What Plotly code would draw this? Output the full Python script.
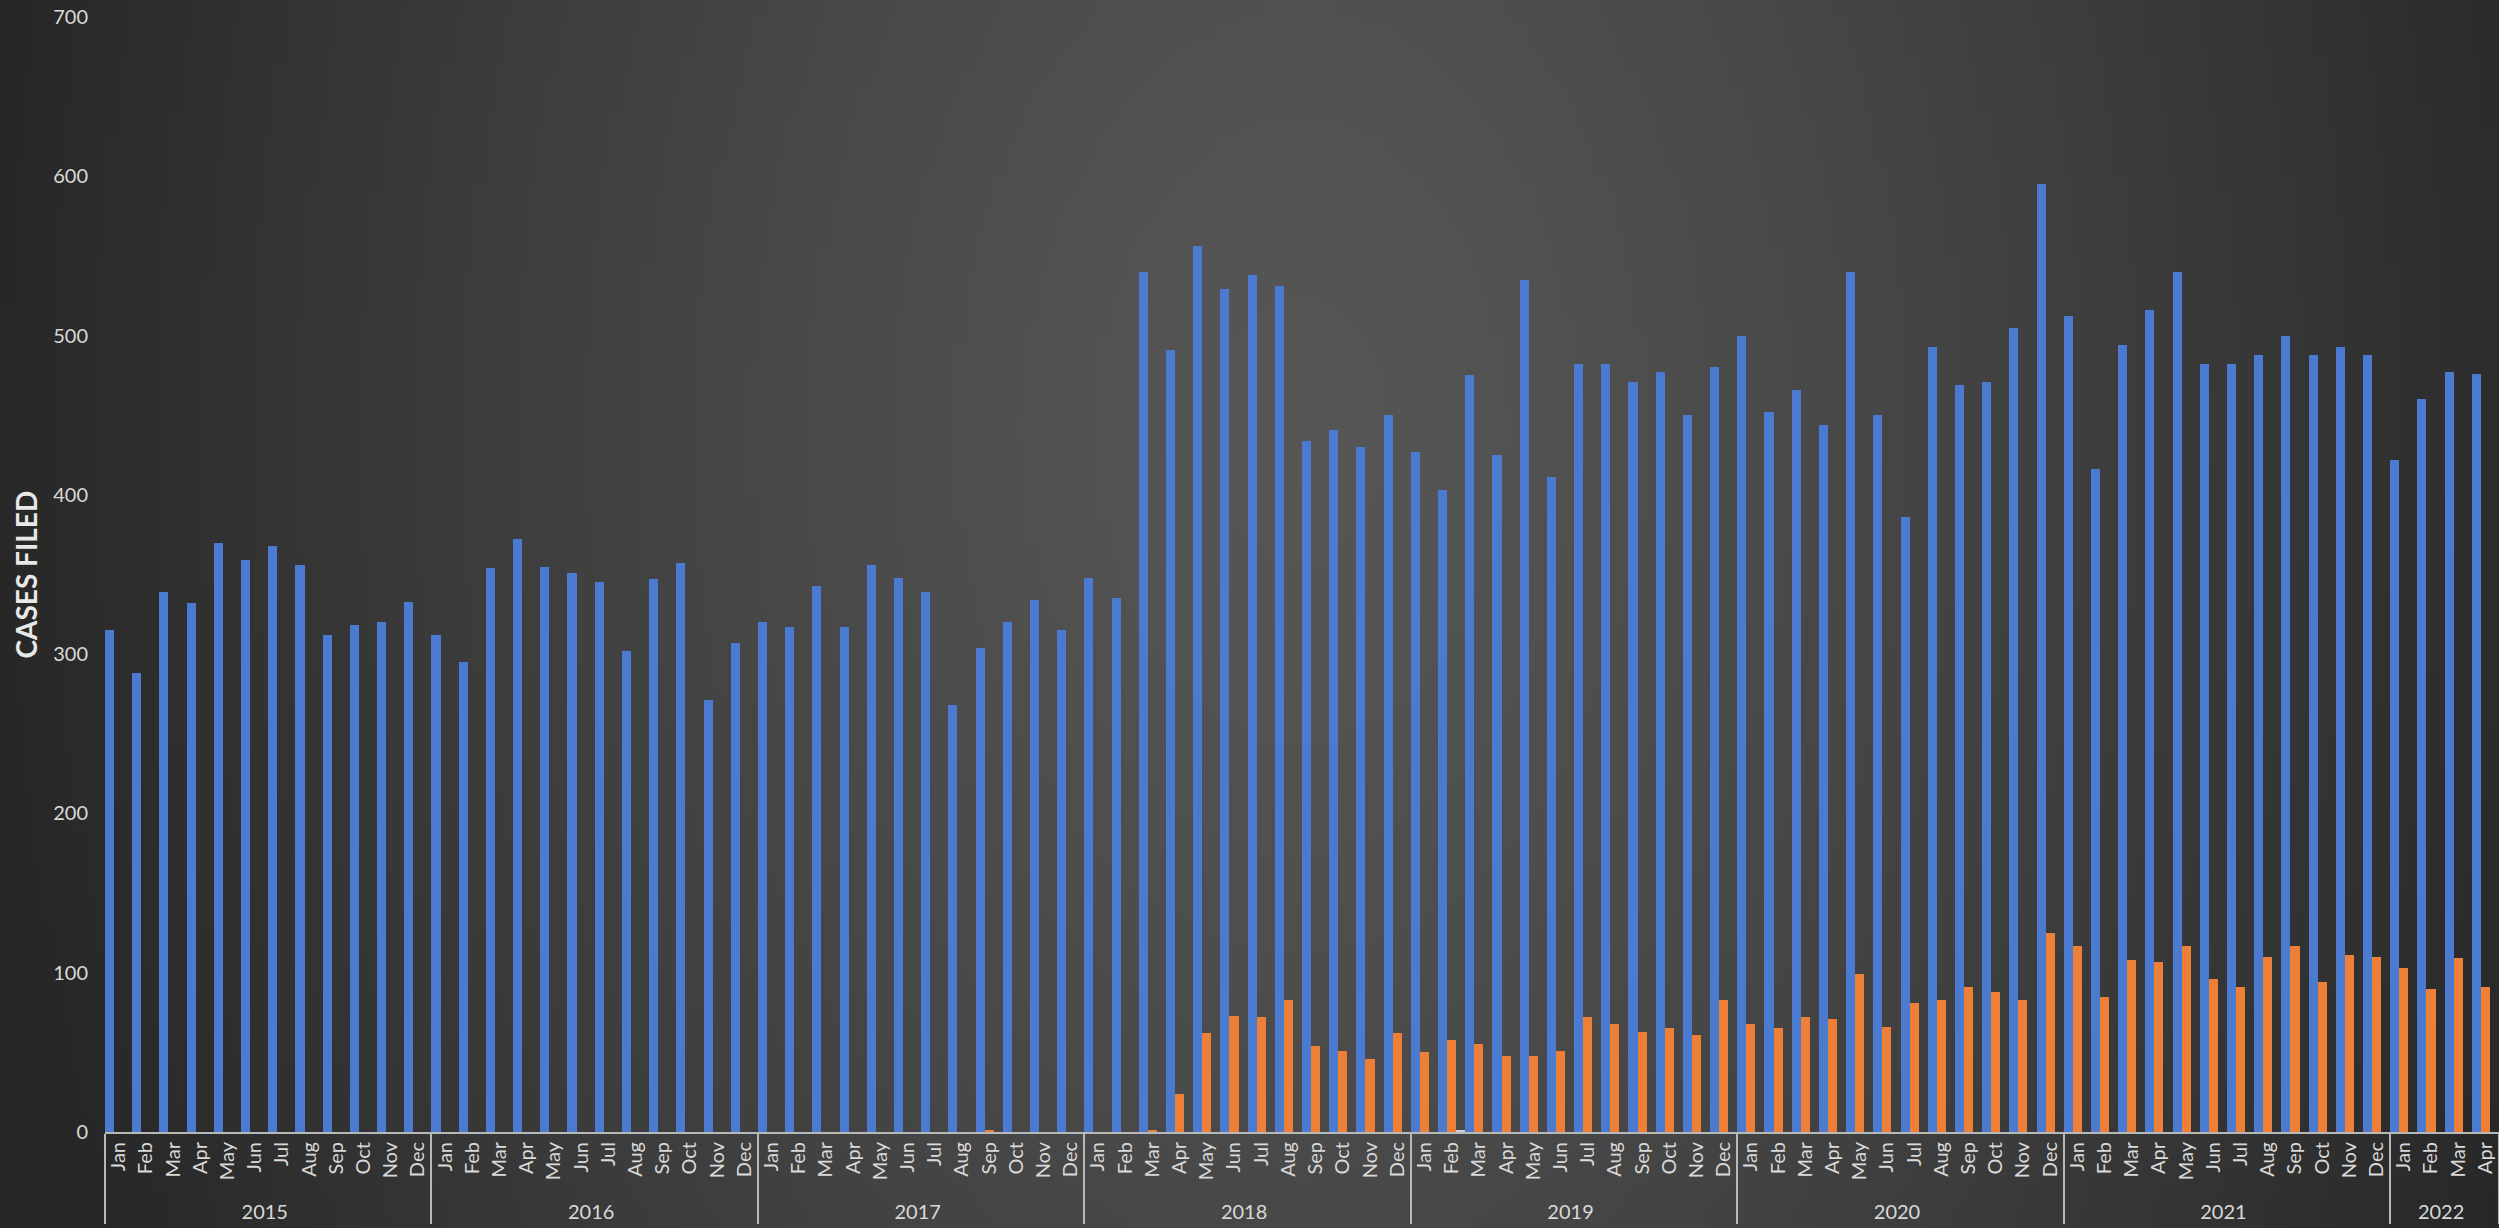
import base64
import struct
import zlib

import plotly.graph_objects as go

# ---------------- data ----------------
months = ["Jan", "Feb", "Mar", "Apr", "May", "Jun",
          "Jul", "Aug", "Sep", "Oct", "Nov", "Dec"]
years = ["2015", "2016", "2017", "2018", "2019", "2020", "2021", "2022"]
months_per_year = [12, 12, 12, 12, 12, 12, 12, 4]

series_blue = [
    315, 288, 339, 332, 370, 359, 368, 356, 312, 318, 320, 333,   # 2015
    312, 295, 354, 372, 355, 351, 345, 302, 347, 357, 271, 307,   # 2016
    320, 317, 343, 317, 356, 348, 339, 268, 304, 320, 334, 315,   # 2017
    348, 335, 540, 491, 556, 529, 538, 531, 434, 441, 430, 450,   # 2018
    427, 403, 475, 425, 535, 411, 482, 482, 471, 477, 450, 480,   # 2019
    500, 452, 466, 444, 540, 450, 386, 493, 469, 471, 505, 595,   # 2020
    512, 416, 494, 516, 540, 482, 482, 488, 500, 488, 493, 488,   # 2021
    422, 460, 477, 476,                                           # 2022
]
series_orange = [
    0, 0, 0, 0, 0, 0, 0, 0, 0, 0, 0, 0,                           # 2015
    0, 0, 0, 0, 0, 0, 0, 0, 0, 0, 0, 0,                           # 2016
    0, 0, 0, 0, 0, 0, 0, 0, 1, 0, 0, 0,                           # 2017
    0, 0, 1, 24, 62, 73, 72, 83, 54, 51, 46, 62,                  # 2018
    50, 58, 55, 48, 48, 51, 72, 68, 63, 65, 61, 83,               # 2019
    68, 65, 72, 71, 99, 66, 81, 83, 91, 88, 83, 125,              # 2020
    117, 85, 108, 107, 117, 96, 91, 110, 117, 94, 111, 110,       # 2021
    103, 90, 109, 91,                                             # 2022
]
series_grey = [0] * 88
series_grey[49] = 1   # Feb 2019

y_ticks = [0, 100, 200, 300, 400, 500, 600, 700]
y_title = "CASES FILED"

# category arrays (outer = year, inner = month)
x_year = []
x_month = []
for yr, n in zip(years, months_per_year):
    x_year += [yr] * n
    x_month += months[:n]

# ---------------- background (radial gradient as a tiny PNG) ----------------
W, H = 2499, 1228
PW, PH = 250, 123


def make_png(w, h, rows):
    raw = b"".join(b"\x00" + bytes(r) for r in rows)

    def chunk(t, d):
        return (struct.pack(">I", len(d)) + t + d
                + struct.pack(">I", zlib.crc32(t + d) & 0xFFFFFFFF))

    return (b"\x89PNG\r\n\x1a\n"
            + chunk(b"IHDR", struct.pack(">IIBBBBB", w, h, 8, 0, 0, 0, 0))
            + chunk(b"IDAT", zlib.compress(raw, 9))
            + chunk(b"IEND", b""))


cx, cy = 1300.0, 430.0
rx, ry = 1330.0, 2000.0
c_center, c_edge = 86.0, 38.0
rows = []
for j in range(PH):
    yy = (j + 0.5) * H / PH
    row = []
    for i in range(PW):
        xx = (i + 0.5) * W / PW
        t = (((xx - cx) / rx) ** 2 + ((yy - cy) / ry) ** 2) ** 0.5
        t = min(t, 1.0) ** 1.3
        row.append(int(round(c_center - (c_center - c_edge) * t)))
    rows.append(row)
bg_uri = "data:image/png;base64," + base64.b64encode(make_png(PW, PH, rows)).decode()

# ---------------- figure ----------------
ml, mr, mt, mb = 105, 0, 17, 96
pw, ph = W - ml - mr, H - mt - mb

fig = go.Figure()
fig.add_trace(go.Bar(x=[x_year, x_month], y=series_blue, name="Series 1",
                     marker=dict(color="#4b7ad1", line=dict(width=0))))
fig.add_trace(go.Bar(x=[x_year, x_month], y=series_orange, name="Series 2",
                     marker=dict(color="#ee7f36", line=dict(width=0))))
fig.add_trace(go.Bar(x=[x_year, x_month], y=series_grey, name="Series 3",
                     marker=dict(color="#d0d0d0", line=dict(width=0))))

font_family = "Lato, 'Open Sans', sans-serif"
fig.update_layout(
    width=W, height=H,
    margin=dict(l=ml, r=mr, t=mt, b=mb, pad=0),
    paper_bgcolor="#2a2a2a",
    plot_bgcolor="rgba(0,0,0,0)",
    barmode="group", bargap=0.0, bargroupgap=0.0,
    showlegend=False,
    font=dict(family=font_family, size=20, color="#d9d9d9"),
    images=[dict(source=bg_uri, xref="paper", yref="paper",
                 x=-ml / pw, y=1 + mt / ph, sizex=W / pw, sizey=H / ph,
                 xanchor="left", yanchor="top", sizing="stretch",
                 layer="below")],
    xaxis=dict(
        type="multicategory",
        tickangle=-90,
        tickfont=dict(size=20, color="#d9d9d9"),
        showline=True, linecolor="#b8b8b8", linewidth=2,
        showdividers=True, dividercolor="#b8b8b8", dividerwidth=1.5,
        ticks="", showgrid=False, zeroline=False,
    ),
    yaxis=dict(
        range=[0, 700], tickvals=y_ticks,
        tickfont=dict(size=20, color="#d9d9d9"),
        showgrid=False, zeroline=False, showline=False, ticks="",
        ticklabelstandoff=16,
    ),
    annotations=[dict(
        text=y_title, xref="paper", yref="paper",
        x=(25 - ml) / pw, y=0.5, textangle=-90, showarrow=False,
        xanchor="center", yanchor="middle",
        font=dict(family=font_family, size=28, color="#e8e8e8", weight="bold"),
    )],
)

fig.write_html(
    "out.html",
    config={"displayModeBar": False},
    post_script="document.body.style.margin='0';"
                "document.body.style.background='#2a2a2a';"
                "document.body.style.overflow='hidden';",
)
